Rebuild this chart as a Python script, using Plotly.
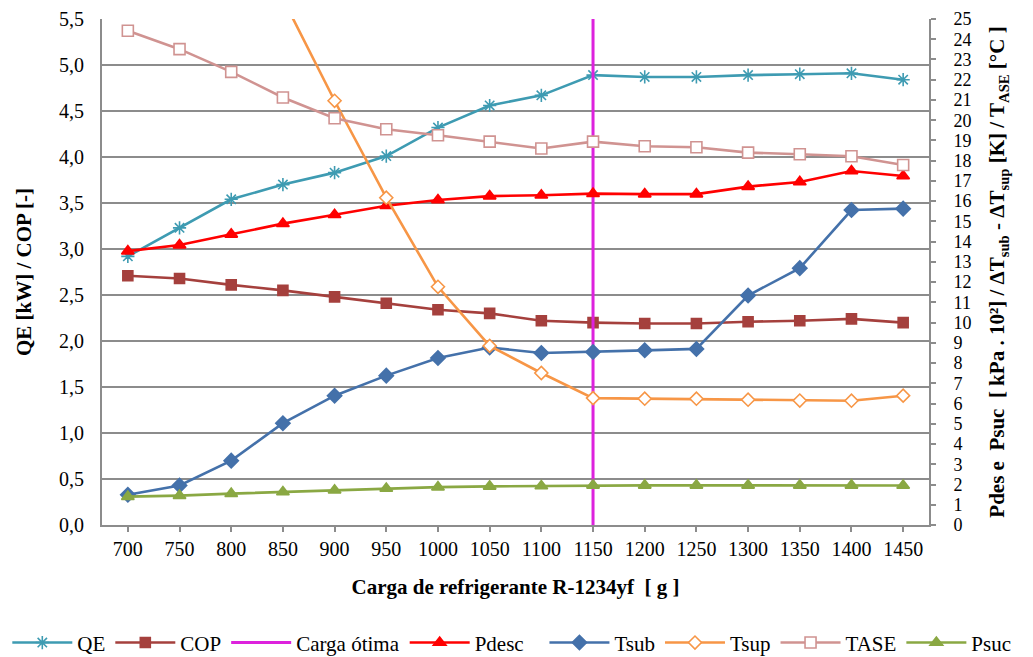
import plotly.graph_objects as go

cargas = ["700", "750", "800", "850", "900", "950", "1000", "1050", "1100",
          "1150", "1200", "1250", "1300", "1350", "1400", "1450"]

qe = [2.92, 3.23, 3.54, 3.70, 3.83, 4.01, 4.32, 4.56, 4.67, 4.89, 4.87, 4.87, 4.89, 4.90, 4.91, 4.84]
cop = [2.71, 2.68, 2.61, 2.55, 2.48, 2.41, 2.34, 2.30, 2.22, 2.20, 2.19, 2.19, 2.21, 2.22, 2.24, 2.20]
pdesc = [13.53, 13.83, 14.36, 14.89, 15.33, 15.77, 16.06, 16.25, 16.29, 16.37, 16.35, 16.35, 16.72, 16.95, 17.49, 17.24]
tsub = [1.49, 1.95, 3.18, 5.03, 6.39, 7.38, 8.25, 8.77, 8.50, 8.55, 8.63, 8.70, 11.34, 12.69, 15.56, 15.63]
tsup = [None, None, None, 26.0, 20.96, 16.17, 11.77, 8.85, 7.51, 6.27, 6.24, 6.24, 6.19, 6.15, 6.14, 6.39]
tase = [24.42, 23.51, 22.39, 21.12, 20.10, 19.55, 19.26, 18.94, 18.60, 18.94, 18.71, 18.66, 18.40, 18.32, 18.22, 17.79]
psuc = [1.40, 1.45, 1.55, 1.63, 1.72, 1.80, 1.87, 1.91, 1.93, 1.96, 1.96, 1.96, 1.96, 1.96, 1.96, 1.95]

carga_otima = "1150"
carga_otima_y = [0, 25]

FONT = "Liberation Serif, Times New Roman, serif"
GRID = "#8C8C8C"

fig = go.Figure()

def add(name, x, y, color, symbol, axis, size=10, mfill=None, legend="legend"):
    fig.add_trace(go.Scatter(
        x=x, y=y, name=name, mode="lines+markers", yaxis=axis, legend=legend,
        line=dict(color=color, width=2.6),
        marker=dict(symbol=symbol, size=size, color=mfill if mfill else color,
                    line=dict(color=color, width=1.6)),
        connectgaps=False,
    ))

add("QE", cargas, qe, "#3E9BB2", "asterisk-open", "y", size=11)
add("COP", cargas, cop, "#A5403D", "square", "y", size=10)
fig.add_trace(go.Scatter(x=[carga_otima, carga_otima], y=carga_otima_y, name="Carga ótima",
                         mode="lines", yaxis="y2", legend="legend",
                         line=dict(color="#DD22DD", width=3)))
add("Pdesc", cargas, pdesc, "#FF0000", "triangle-up", "y2", size=11)
add("Tsub", cargas, tsub, "#4471AA", "diamond", "y2", size=11, legend="legend2")
add("Tsup", cargas, tsup, "#F79646", "diamond", "y2", size=10, mfill="white", legend="legend2")
add("TASE", cargas, tase, "#D09391", "square", "y2", size=11, mfill="white", legend="legend2")
add("Psuc", cargas, psuc, "#8AA843", "triangle-up", "y2", size=11, legend="legend2")

legend_common = dict(orientation="h", y=-0.233, yanchor="middle", xanchor="left",
                     font=dict(family=FONT, size=21), itemwidth=60, tracegroupgap=0,
                     borderwidth=0, bgcolor="rgba(0,0,0,0)")

fig.update_layout(
    width=1025, height=649,
    margin=dict(l=94, r=104, t=11, b=132, autoexpand=False),
    paper_bgcolor="white", plot_bgcolor="white",
    separators=",.",
    font=dict(family=FONT, size=20, color="black"),
    showlegend=True,
    legend=dict(x=-0.1145, **legend_common),
    legend2=dict(x=0.535, **legend_common),
    xaxis=dict(type="category", categoryorder="array", categoryarray=cargas,
               range=[-0.5, 15.5], showgrid=False, showline=True, linecolor=GRID, linewidth=2,
               ticks="outside", ticklen=5, tickcolor=GRID, tickwidth=1.5, automargin=False,
               tickfont=dict(family=FONT, size=20),
               title=dict(text="<b>Carga de refrigerante R-1234yf  [ g ]</b>",
                          font=dict(family=FONT, size=21), standoff=20)),
    yaxis=dict(range=[0, 5.5], dtick=0.5, tickformat=".1f", showgrid=True, gridcolor=GRID,
               gridwidth=1.5, showline=True, linecolor=GRID, linewidth=2, zeroline=False,
               ticks="", ticklabelstandoff=12, automargin=False,
               tickfont=dict(family=FONT, size=20),
               title=dict(text="<b>QE [kW] / COP [-]</b>", font=dict(family=FONT, size=21),
                          standoff=22)),
    yaxis2=dict(range=[0, 25], dtick=1, overlaying="y", side="right", showgrid=False,
                showline=True, linecolor=GRID, linewidth=2, zeroline=False,
                ticks="outside", ticklen=5, tickcolor=GRID, tickwidth=1.5,
                ticklabelstandoff=14, automargin=False,
                tickfont=dict(family=FONT, size=18),
                title=dict(text="<b>Pdes e  Psuc  [ kPa . 10²] / ΔT<sub>sub</sub> - ΔT<sub>sup</sub> [K] / T<sub>ASE</sub> [°C ]</b>",
                           font=dict(family=FONT, size=21), standoff=19)),
)

fig.write_html("out.html")
